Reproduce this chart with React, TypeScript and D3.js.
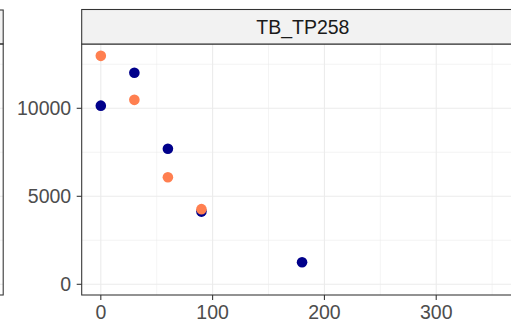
import React from "react";
import * as d3 from "d3";

const facetTitle = "TB_TP258";
const timeX = [0, 30, 60, 90, 180];
const seriesNavy = [10150, 12020, 7700, 4130, 1250];
const orangeX = [0, 30, 60, 90];
const seriesOrange = [12980, 10480, 6080, 4270];
const xTicks = [0, 100, 200, 300];
const xMinor = [50, 150, 250, 350];
const yTicks = [0, 5000, 10000];
const yMinor = [2500, 7500, 12500];

const W = 511;
const H = 321;

export default function App() {
  const pL = 81.7;
  const pR = 516;
  const pT = 44;
  const pB = 295;
  const x = d3.scaleLinear().domain([-17.1, 366]).range([pL, 510]);
  const y = d3.scaleLinear().domain([-608, 13653]).range([pB, pT]);
  const fs = 19.5;
  const navy = "#00008B";
  const orange = "#FF7F50";
  const border = "#333333";
  return (
    <svg width={W} height={H} style={{ position: "absolute", left: 0, top: 0 }} fontFamily="'Liberation Sans', Arial, sans-serif">
      <rect x={0} y={0} width={W} height={H} fill="#fff" />
      {/* left (cut-off) panel */}
      <rect x={-10} y={10} width={13.2} height={34} fill="#F2F2F2" stroke={border} strokeWidth={1.07} />
      {yMinor.map((v) => (
        <line key={"lm" + v} x1={0} x2={3} y1={y(v)} y2={y(v)} stroke="#EBEBEB" strokeWidth={0.53} />
      ))}
      {yTicks.map((v) => (
        <line key={"lM" + v} x1={0} x2={3} y1={y(v)} y2={y(v)} stroke="#EBEBEB" strokeWidth={1.07} />
      ))}
      <rect x={-10} y={44} width={13.2} height={pB - 44} fill="none" stroke={border} strokeWidth={1.07} />

      {/* right panel grid */}
      {xMinor.map((v) => (
        <line key={"xm" + v} x1={x(v)} x2={x(v)} y1={pT} y2={pB} stroke="#EBEBEB" strokeWidth={0.53} />
      ))}
      {yMinor.map((v) => (
        <line key={"ym" + v} x1={pL} x2={pR} y1={y(v)} y2={y(v)} stroke="#EBEBEB" strokeWidth={0.53} />
      ))}
      {xTicks.map((v) => (
        <line key={"xM" + v} x1={x(v)} x2={x(v)} y1={pT} y2={pB} stroke="#EBEBEB" strokeWidth={1.07} />
      ))}
      {yTicks.map((v) => (
        <line key={"yM" + v} x1={pL} x2={pR} y1={y(v)} y2={y(v)} stroke="#EBEBEB" strokeWidth={1.07} />
      ))}
      {/* points */}
      {timeX.map((t, i) => (
        <circle key={"n" + i} cx={x(t)} cy={y(seriesNavy[i])} r={5.3} fill={navy} />
      ))}
      {orangeX.map((t, i) => (
        <circle key={"o" + i} cx={x(t)} cy={y(seriesOrange[i])} r={5.3} fill={orange} />
      ))}
      {/* panel border */}
      <rect x={pL} y={pT} width={pR - pL} height={pB - pT} fill="none" stroke={border} strokeWidth={1.07} />
      {/* strip */}
      <rect x={pL} y={9.5} width={pR - pL} height={pT - 9.5} fill="#F2F2F2" stroke={border} strokeWidth={1.07} />
      <text x={(pL + 510) / 2 + 7} y={(9.5 + pT) / 2} dy="0.35em" textAnchor="middle" fontSize={fs} fill="#1A1A1A">
        {facetTitle}
      </text>
      {/* y axis */}
      {yTicks.map((v) => (
        <g key={"yt" + v}>
          <line x1={pL - 5} x2={pL} y1={y(v)} y2={y(v)} stroke={border} strokeWidth={1.07} />
          <text x={pL - 10.5} y={y(v)} dy="0.35em" textAnchor="end" fontSize={fs} fill="#4D4D4D">
            {v}
          </text>
        </g>
      ))}
      {/* x axis */}
      {xTicks.map((v) => (
        <g key={"xt" + v}>
          <line x1={x(v)} x2={x(v)} y1={pB} y2={pB + 5} stroke={border} strokeWidth={1.07} />
          <text x={x(v)} y={pB + 9} dy="0.75em" textAnchor="middle" fontSize={fs} fill="#4D4D4D">
            {v}
          </text>
        </g>
      ))}
    </svg>
  );
}
